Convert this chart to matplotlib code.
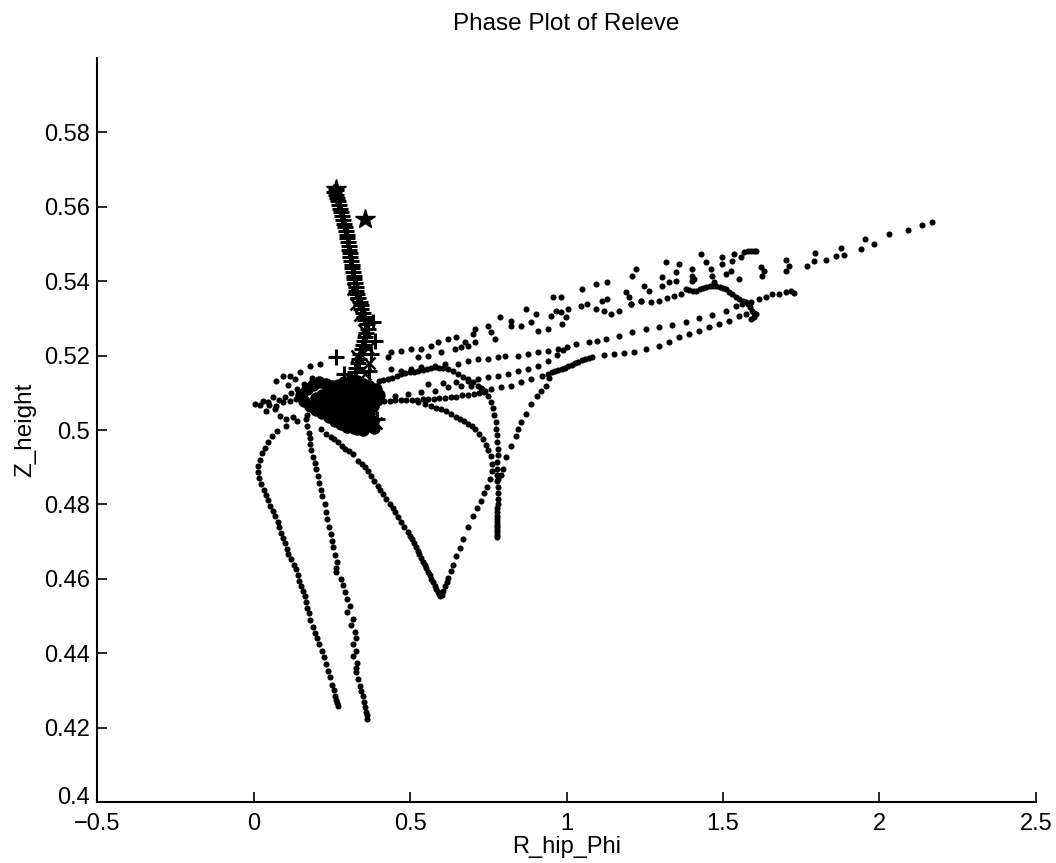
import numpy as np
import matplotlib
matplotlib.use("Agg")
import matplotlib.pyplot as plt
import matplotlib.transforms as mtransforms

plt.rcParams['font.family'] = ['Liberation Sans', 'DejaVu Sans']

# ---- data (R_hip_Phi, Z_height) ----
outer_left = [
    (0.170, 0.5040), (0.140, 0.5025), (0.105, 0.5012), (0.075, 0.4998), (0.058, 0.4984),
    (0.046, 0.4968), (0.035, 0.4952), (0.027, 0.4937), (0.020, 0.4920), (0.015, 0.4903),
    (0.013, 0.4887), (0.016, 0.4871), (0.024, 0.4855), (0.033, 0.4840), (0.040, 0.4826),
    (0.046, 0.4812), (0.053, 0.4797), (0.061, 0.4783), (0.069, 0.4768), (0.077, 0.4753),
    (0.082, 0.4738), (0.087, 0.4722), (0.093, 0.4710), (0.100, 0.4695), (0.107, 0.4680),
    (0.111, 0.4668), (0.119, 0.4652), (0.128, 0.4638), (0.135, 0.4627), (0.141, 0.4610),
    (0.146, 0.4595), (0.152, 0.4580), (0.158, 0.4566), (0.163, 0.4553), (0.168, 0.4538),
    (0.172, 0.4522), (0.176, 0.4507), (0.181, 0.4490), (0.189, 0.4470), (0.196, 0.4455),
    (0.202, 0.4440), (0.210, 0.4425), (0.219, 0.4405), (0.226, 0.4390), (0.232, 0.4372),
    (0.237, 0.4352), (0.244, 0.4335), (0.252, 0.4315), (0.257, 0.4300), (0.261, 0.4285),
    (0.264, 0.4275), (0.267, 0.4265), (0.269, 0.4258),
]

inner_left = [
    (0.168, 0.5030), (0.172, 0.5010), (0.176, 0.4992), (0.179, 0.4978), (0.181, 0.4962),
    (0.184, 0.4945), (0.190, 0.4928), (0.196, 0.4912), (0.200, 0.4895), (0.205, 0.4877),
    (0.209, 0.4858), (0.214, 0.4840), (0.219, 0.4822), (0.227, 0.4801), (0.231, 0.4780),
    (0.236, 0.4760), (0.242, 0.4740), (0.247, 0.4721), (0.250, 0.4703), (0.253, 0.4686),
    (0.260, 0.4665), (0.268, 0.4646), (0.262, 0.4630), (0.264, 0.4619), (0.279, 0.4600),
    (0.285, 0.4583), (0.292, 0.4565), (0.300, 0.4547), (0.308, 0.4528), (0.297, 0.4510),
    (0.317, 0.4493), (0.312, 0.4475), (0.324, 0.4458), (0.328, 0.4440), (0.319, 0.4424),
    (0.327, 0.4405), (0.317, 0.4393), (0.330, 0.4375), (0.326, 0.4360), (0.328, 0.4350),
    (0.334, 0.4330), (0.340, 0.4313), (0.344, 0.4298), (0.349, 0.4285), (0.353, 0.4270),
    (0.356, 0.4255), (0.359, 0.4243), (0.361, 0.4233), (0.362, 0.4224),
]

v_loop = [
    (0.215, 0.5003), (0.232, 0.4990), (0.247, 0.4981), (0.258, 0.4975), (0.269, 0.4968),
    (0.281, 0.4958), (0.292, 0.4949), (0.305, 0.4943), (0.317, 0.4936), (0.333, 0.4917),
    (0.345, 0.4910), (0.356, 0.4901), (0.366, 0.4890), (0.375, 0.4877), (0.386, 0.4863),
    (0.397, 0.4850), (0.405, 0.4839), (0.413, 0.4828), (0.424, 0.4815), (0.436, 0.4801),
    (0.444, 0.4791), (0.452, 0.4780), (0.462, 0.4767), (0.471, 0.4753), (0.482, 0.4740),
    (0.494, 0.4726), (0.500, 0.4716), (0.506, 0.4706), (0.512, 0.4696), (0.518, 0.4685),
    (0.524, 0.4676), (0.530, 0.4666), (0.536, 0.4656), (0.542, 0.4646), (0.547, 0.4637),
    (0.552, 0.4628), (0.558, 0.4619), (0.563, 0.4609), (0.568, 0.4600), (0.574, 0.4591),
    (0.579, 0.4582), (0.584, 0.4573), (0.589, 0.4564), (0.593, 0.4558), (0.597, 0.4554),
    (0.601, 0.4557), (0.606, 0.4566), (0.612, 0.4581), (0.617, 0.4592), (0.622, 0.4603),
    (0.630, 0.4620), (0.638, 0.4637), (0.647, 0.4660), (0.658, 0.4683), (0.670, 0.4707),
    (0.686, 0.4738), (0.702, 0.4769), (0.714, 0.4790), (0.726, 0.4810), (0.737, 0.4830),
    (0.746, 0.4848), (0.755, 0.4868), (0.762, 0.4890), (0.763, 0.4910), (0.758, 0.4930),
    (0.750, 0.4945), (0.742, 0.4960), (0.734, 0.4976), (0.721, 0.4990), (0.708, 0.5003),
    (0.697, 0.5010), (0.686, 0.5016), (0.673, 0.5023), (0.660, 0.5030), (0.646, 0.5036),
    (0.631, 0.5043), (0.615, 0.5050), (0.599, 0.5056), (0.583, 0.5060), (0.567, 0.5064),
    (0.547, 0.5070), (0.526, 0.5075),
]

solid_line = [
    (0.400, 0.5132), (0.415, 0.5135), (0.429, 0.5137), (0.443, 0.5141), (0.457, 0.5145),
    (0.471, 0.5150), (0.485, 0.5153), (0.499, 0.5155), (0.513, 0.5157), (0.526, 0.5158),
    (0.540, 0.5161), (0.553, 0.5164), (0.567, 0.5167), (0.580, 0.5169), (0.593, 0.5168),
    (0.606, 0.5166), (0.622, 0.5164), (0.638, 0.5158), (0.654, 0.5150), (0.670, 0.5143),
    (0.686, 0.5137), (0.702, 0.5128), (0.718, 0.5118), (0.730, 0.5111),
]

vert_branch = [
    (0.740, 0.5105), (0.750, 0.5091), (0.758, 0.5075), (0.764, 0.5058), (0.769, 0.5040),
    (0.773, 0.5022), (0.776, 0.5004), (0.778, 0.4986), (0.779, 0.4968), (0.780, 0.4950),
    (0.780, 0.4932), (0.779, 0.4914), (0.778, 0.4896), (0.778, 0.4878), (0.779, 0.4862),
    (0.780, 0.4846), (0.780, 0.4830), (0.780, 0.4815), (0.780, 0.4802), (0.779, 0.4790),
    (0.779, 0.4779), (0.779, 0.4769), (0.779, 0.4760), (0.778, 0.4752), (0.778, 0.4745),
    (0.778, 0.4738), (0.778, 0.4731), (0.778, 0.4725), (0.777, 0.4719), (0.777, 0.4713),
]

drop_curve = [
    (0.945, 0.5140), (0.933, 0.5118), (0.918, 0.5104), (0.904, 0.5091), (0.888, 0.5070),
    (0.869, 0.5043), (0.853, 0.5021), (0.845, 0.5002), (0.837, 0.4984), (0.821, 0.4957),
    (0.808, 0.4928), (0.798, 0.4895), (0.790, 0.4880), (0.782, 0.4868),
]

row_b = [
    (0.400, 0.5075), (0.418, 0.5077), (0.435, 0.5078), (0.452, 0.5080), (0.470, 0.5080),
    (0.488, 0.5081), (0.505, 0.5082), (0.522, 0.5082), (0.540, 0.5083), (0.558, 0.5083),
    (0.576, 0.5084), (0.594, 0.5085), (0.612, 0.5086), (0.630, 0.5088), (0.648, 0.5090),
    (0.667, 0.5093), (0.685, 0.5095), (0.703, 0.5097), (0.720, 0.5100), (0.735, 0.5103),
]

row_l = [
    (0.452, 0.5091), (0.494, 0.5097), (0.535, 0.5102), (0.580, 0.5105), (0.622, 0.5115),
    (0.663, 0.5118), (0.696, 0.5118), (0.728, 0.5113), (0.760, 0.5110), (0.792, 0.5115),
    (0.824, 0.5118), (0.856, 0.5129), (0.888, 0.5137), (0.920, 0.5145), (0.940, 0.5151),
    (0.952, 0.5156), (0.963, 0.5159), (0.974, 0.5162), (0.984, 0.5164), (0.995, 0.5168),
    (1.006, 0.5172), (1.016, 0.5175), (1.027, 0.5179), (1.038, 0.5184), (1.048, 0.5188),
    (1.060, 0.5192), (1.071, 0.5195), (1.080, 0.5196), (1.119, 0.5201), (1.151, 0.5204),
    (1.183, 0.5207), (1.215, 0.5209), (1.253, 0.5217), (1.295, 0.5226), (1.327, 0.5236),
    (1.359, 0.5250), (1.391, 0.5258), (1.423, 0.5266), (1.455, 0.5277), (1.487, 0.5285),
    (1.519, 0.5293), (1.551, 0.5306), (1.574, 0.5311),
]

row_c = [
    (0.558, 0.5124), (0.606, 0.5126), (0.647, 0.5129), (0.686, 0.5132), (0.718, 0.5137),
    (0.750, 0.5142), (0.782, 0.5145), (0.814, 0.5150), (0.846, 0.5158), (0.878, 0.5164),
    (0.910, 0.5172), (0.942, 0.5185), (0.968, 0.5201), (0.990, 0.5215),
]

row_m = [
    (0.439, 0.5164), (0.471, 0.5158), (0.503, 0.5164), (0.535, 0.5169), (0.580, 0.5172),
    (0.612, 0.5177), (0.654, 0.5177), (0.686, 0.5185), (0.718, 0.5191), (0.750, 0.5191),
    (0.782, 0.5196), (0.804, 0.5199), (0.846, 0.5199), (0.878, 0.5204), (0.910, 0.5209),
    (0.942, 0.5212), (0.974, 0.5217), (1.000, 0.5223), (1.029, 0.5231), (1.071, 0.5236),
    (1.098, 0.5240), (1.125, 0.5244), (1.167, 0.5252), (1.208, 0.5263), (1.253, 0.5271),
    (1.295, 0.5277), (1.337, 0.5282), (1.381, 0.5290), (1.423, 0.5301), (1.465, 0.5309),
    (1.510, 0.5319), (1.542, 0.5333), (1.561, 0.5338), (1.590, 0.5345), (1.615, 0.5351),
    (1.638, 0.5359), (1.657, 0.5365), (1.679, 0.5367), (1.702, 0.5370), (1.718, 0.5373),
    (1.728, 0.5368),
]

hook = [
    (1.205, 0.5338), (1.237, 0.5346), (1.269, 0.5344), (1.295, 0.5346), (1.320, 0.5354),
    (1.343, 0.5360), (1.365, 0.5365), (1.381, 0.5379), (1.392, 0.5377), (1.403, 0.5375),
    (1.413, 0.5373), (1.425, 0.5378), (1.436, 0.5382), (1.446, 0.5384), (1.457, 0.5386),
    (1.468, 0.5387), (1.478, 0.5387), (1.489, 0.5385), (1.500, 0.5382), (1.510, 0.5379),
    (1.520, 0.5372), (1.529, 0.5365), (1.540, 0.5358), (1.551, 0.5352), (1.563, 0.5348),
    (1.574, 0.5344), (1.580, 0.5338), (1.586, 0.5331), (1.593, 0.5319), (1.600, 0.5314),
    (1.606, 0.5311), (1.598, 0.5304), (1.590, 0.5298),
]

top_scatter = [
    (0.429, 0.5196), (0.439, 0.5209), (0.471, 0.5212), (0.503, 0.5217), (0.526, 0.5196),
    (0.535, 0.5217), (0.558, 0.5199), (0.567, 0.5225), (0.590, 0.5236), (0.599, 0.5209),
    (0.622, 0.5244), (0.644, 0.5217), (0.647, 0.5250), (0.663, 0.5223), (0.676, 0.5236),
    (0.686, 0.5225), (0.702, 0.5258), (0.708, 0.5271), (0.708, 0.5236), (0.750, 0.5279),
    (0.760, 0.5263), (0.772, 0.5244), (0.788, 0.5303), (0.824, 0.5293), (0.824, 0.5279),
    (0.856, 0.5279), (0.869, 0.5325), (0.888, 0.5290), (0.901, 0.5311), (0.910, 0.5266),
    (0.942, 0.5271), (0.949, 0.5306), (0.981, 0.5317), (0.984, 0.5285), (0.997, 0.5303),
    (0.958, 0.5357), (0.981, 0.5357), (1.048, 0.5379), (1.093, 0.5392), (1.128, 0.5397),
    (0.965, 0.5319), (1.006, 0.5325), (1.045, 0.5333), (1.064, 0.5338), (1.112, 0.5346),
    (1.128, 0.5352), (1.093, 0.5325), (1.119, 0.5319), (1.141, 0.5311), (1.167, 0.5319),
    (1.189, 0.5370), (1.199, 0.5357), (1.205, 0.5338), (1.208, 0.5413), (1.221, 0.5432),
    (1.237, 0.5346), (1.247, 0.5387), (1.263, 0.5373), (1.304, 0.5387), (1.304, 0.5411),
    (1.317, 0.5451), (1.327, 0.5397), (1.349, 0.5400), (1.349, 0.5424), (1.359, 0.5446),
    (1.401, 0.5413), (1.401, 0.5400), (1.407, 0.5405), (1.401, 0.5432), (1.429, 0.5472),
    (1.446, 0.5451), (1.462, 0.5432), (1.465, 0.5413), (1.471, 0.5397), (1.497, 0.5464),
    (1.497, 0.5446), (1.510, 0.5419), (1.526, 0.5427), (1.529, 0.5454), (1.535, 0.5472),
    (1.551, 0.5405), (1.558, 0.5464), (1.567, 0.5478), (1.580, 0.5481), (1.590, 0.5481),
    (1.598, 0.5480), (1.606, 0.5481), (1.622, 0.5438), (1.625, 0.5413), (1.631, 0.5427),
    (1.702, 0.5456), (1.702, 0.5427), (1.712, 0.5440), (1.769, 0.5440), (1.792, 0.5454),
    (1.795, 0.5475), (1.830, 0.5456), (1.862, 0.5467), (1.878, 0.5489), (1.888, 0.5470),
    (1.942, 0.5486), (1.955, 0.5513), (1.981, 0.5499), (2.029, 0.5526), (2.090, 0.5537),
    (2.135, 0.5550), (2.167, 0.5558),
]

left_wing = [
    (0.006, 0.5070), (0.029, 0.5078), (0.045, 0.5075), (0.061, 0.5089), (0.071, 0.5132),
    (0.093, 0.5145), (0.115, 0.5145), (0.131, 0.5137), (0.147, 0.5156), (0.179, 0.5172),
    (0.212, 0.5177), (0.071, 0.5064), (0.093, 0.5075), (0.115, 0.5078), (0.135, 0.5083),
    (0.157, 0.5078), (0.038, 0.5051), (0.067, 0.5056), (0.083, 0.5038), (0.103, 0.5030),
    (0.125, 0.5035), (0.080, 0.5082), (0.100, 0.5090), (0.120, 0.5100), (0.140, 0.5110),
    (0.160, 0.5125), (0.185, 0.5140), (0.110, 0.5120), (0.050, 0.5068), (0.020, 0.5066),
]

cluster = [
    (0.150, 0.5095), (0.170, 0.5110), (0.190, 0.5120), (0.210, 0.5128), (0.230, 0.5125),
    (0.250, 0.5118), (0.270, 0.5122), (0.290, 0.5130), (0.310, 0.5135), (0.330, 0.5132),
    (0.350, 0.5125), (0.370, 0.5118), (0.390, 0.5110), (0.400, 0.5095), (0.395, 0.5080),
    (0.380, 0.5065), (0.370, 0.5050), (0.360, 0.5035), (0.350, 0.5022), (0.340, 0.5012),
    (0.320, 0.5006), (0.300, 0.5008), (0.280, 0.5015), (0.260, 0.5025), (0.240, 0.5035),
    (0.220, 0.5045), (0.200, 0.5055), (0.180, 0.5065), (0.160, 0.5078),
    (0.200, 0.5085), (0.220, 0.5095), (0.240, 0.5100), (0.260, 0.5105), (0.280, 0.5108),
    (0.300, 0.5112), (0.320, 0.5110), (0.340, 0.5105), (0.360, 0.5098), (0.370, 0.5085),
    (0.360, 0.5072), (0.350, 0.5060), (0.340, 0.5048), (0.330, 0.5035), (0.310, 0.5028),
    (0.290, 0.5035), (0.270, 0.5045), (0.250, 0.5055), (0.230, 0.5065), (0.210, 0.5075),
    (0.250, 0.5080), (0.270, 0.5088), (0.290, 0.5092), (0.310, 0.5095), (0.330, 0.5090),
    (0.340, 0.5078), (0.330, 0.5065), (0.310, 0.5058), (0.290, 0.5062), (0.270, 0.5070),
    (0.300, 0.5075), (0.320, 0.5080), (0.280, 0.5078), (0.310, 0.5045), (0.320, 0.5018),
    (0.330, 0.5004), (0.350, 0.5000), (0.370, 0.5010), (0.380, 0.5025), (0.385, 0.5005),
]

stalk_plus = [
    (0.263, 0.5645), (0.256, 0.5640), (0.262, 0.5632), (0.266, 0.5625), (0.270, 0.5615),
    (0.273, 0.5605), (0.277, 0.5595), (0.280, 0.5585), (0.283, 0.5575), (0.286, 0.5565),
    (0.289, 0.5555), (0.292, 0.5545), (0.295, 0.5535), (0.297, 0.5525), (0.300, 0.5515),
    (0.302, 0.5505), (0.304, 0.5495), (0.306, 0.5485), (0.308, 0.5475), (0.309, 0.5465),
    (0.311, 0.5455), (0.313, 0.5445), (0.315, 0.5435), (0.317, 0.5425), (0.320, 0.5415),
    (0.322, 0.5405), (0.324, 0.5395), (0.326, 0.5385), (0.328, 0.5375), (0.331, 0.5365),
    (0.335, 0.5355), (0.339, 0.5345), (0.342, 0.5335), (0.344, 0.5325), (0.348, 0.5315),
    (0.352, 0.5305), (0.356, 0.5295), (0.362, 0.5285), (0.365, 0.5272), (0.360, 0.5262),
    (0.356, 0.5250), (0.352, 0.5240), (0.348, 0.5228), (0.345, 0.5218), (0.340, 0.5205),
    (0.336, 0.5192), (0.332, 0.5180), (0.328, 0.5168), (0.325, 0.5155),
    (0.381, 0.5290), (0.388, 0.5240), (0.263, 0.5196), (0.375, 0.5205), (0.368, 0.5160),
    (0.290, 0.5150), (0.395, 0.5030),
]

stalk_cross = [
    (0.318, 0.5380), (0.327, 0.5340), (0.340, 0.5310), (0.352, 0.5270), (0.365, 0.5220),
    (0.370, 0.5180), (0.330, 0.5200), (0.355, 0.5150), (0.380, 0.5100), (0.370, 0.5030),
    (0.390, 0.5020),
]

stars = [(0.263, 0.5647), (0.357, 0.5568)]

x_ticks = [-0.5, 0, 0.5, 1, 1.5, 2, 2.5]
x_tick_labels = ['\u22120.5', '0', '0.5', '1', '1.5', '2', '2.5']
y_ticks = [0.4, 0.42, 0.44, 0.46, 0.48, 0.5, 0.52, 0.54, 0.56, 0.58]
y_tick_labels = ['0.4', '0.42', '0.44', '0.46', '0.48', '0.5', '0.52', '0.54', '0.56', '0.58']


def xy(points):
    arr = np.array(points)
    return arr[:, 0], arr[:, 1]


fig = plt.figure(figsize=(10.56, 8.63), dpi=100)
ax = fig.add_axes([0.092, 0.0707, 0.889, 0.862])

dot = dict(linestyle='none', marker='o', color='black', markeredgecolor='none')

for series in [outer_left, inner_left, v_loop, solid_line, vert_branch, drop_curve,
               row_b, row_l, row_c, row_m, hook, top_scatter, left_wing]:
    sx, sy = xy(series)
    ax.plot(sx, sy, markersize=4.4, **dot)

cx, cy = xy(cluster)
ax.plot(cx, cy, markersize=9, **dot)

px, py = xy(stalk_plus)
ax.plot(px, py, linestyle='none', marker='+', markersize=12, markeredgewidth=2.2, color='black')
kx, ky = xy(stalk_cross)
ax.plot(kx, ky, linestyle='none', marker='x', markersize=9, markeredgewidth=1.8, color='black')
sx, sy = xy(stars)
ax.plot(sx, sy, linestyle='none', marker='*', markersize=15, color='black')

ax.set_xlim(-0.5, 2.5)
ax.set_ylim(0.4, 0.6)
ax.set_xticks(x_ticks)
ax.set_xticklabels(x_tick_labels)
ax.set_yticks(y_ticks)
ax.set_yticklabels(y_tick_labels)

for side in ['top', 'right']:
    ax.spines[side].set_visible(False)
for side in ['left', 'bottom']:
    ax.spines[side].set_linewidth(1.5)
ax.tick_params(direction='in', length=7, width=1.2, labelsize=17)
ax.tick_params(axis='x', pad=8)
ax.tick_params(axis='y', pad=5)

# the bottom y label sits just above the corner x label, as in MATLAB
nudge = mtransforms.ScaledTranslation(0, 5 / 72, fig.dpi_scale_trans)
corner = ax.get_yticklabels()[0]
corner.set_transform(corner.get_transform() + nudge)

ax.set_title('Phase Plot of Releve', fontsize=17.5, pad=20)
ax.set_xlabel('R_hip_Phi', fontsize=17, labelpad=1)
ax.set_ylabel('Z_height', fontsize=17.5, labelpad=6)

fig.savefig('out.png', dpi=100)
